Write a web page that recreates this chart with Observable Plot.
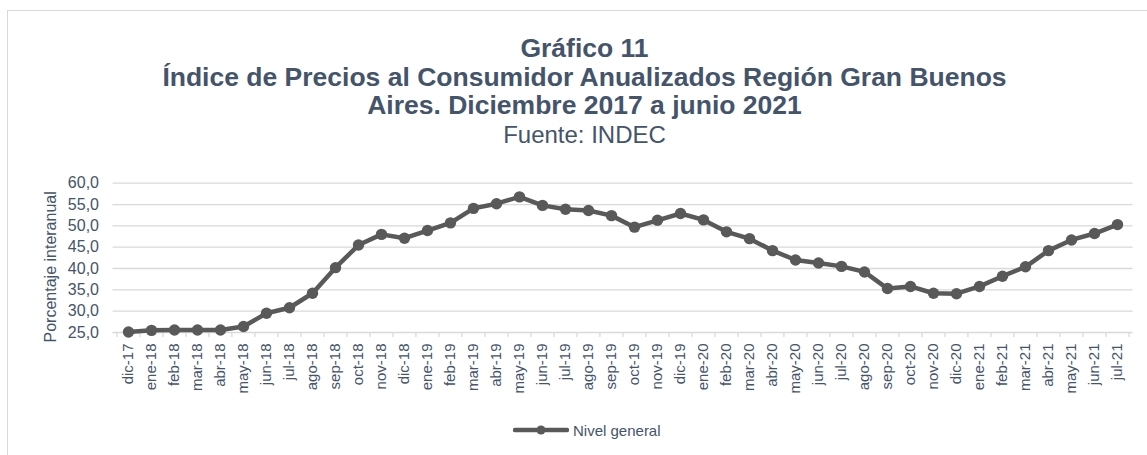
<!DOCTYPE html>
<html>
<head>
<meta charset="utf-8">
<script src="https://cdn.jsdelivr.net/npm/d3@7"></script>
<script src="https://cdn.jsdelivr.net/npm/@observablehq/plot@0.6"></script>
<style>
  html, body { margin: 0; padding: 0; background: #fff; }
  body { width: 1147px; height: 455px; overflow: hidden; position: relative; font-family: "Liberation Sans", Arial, sans-serif; }
  #frame { position: absolute; left: 7px; top: 10px; width: 1300px; height: 600px; border: 1.5px solid #d9d9d9; box-sizing: border-box; }
  #titles { position: absolute; left: 0; top: 34px; width: 1169px; text-align: center; color: #44546A; line-height: 28.5px; }
  #titles .t { font-weight: bold; font-size: 26.5px; }
  #titles .s { font-size: 24px; margin-top: 1.8px; }
  #chart { position: absolute; left: 0; top: 170px; }
  #legend { position: absolute; left: 513px; top: 420px; height: 20px; display: flex; align-items: center; color: #44546A; font-size: 15px; }
  #legend svg { margin-right: 4px; }
</style>
</head>
<body>
<div id="frame"></div>
<div id="titles">
  <div class="t">Gráfico 11</div>
  <div class="t">Índice de Precios al Consumidor Anualizados Región Gran Buenos</div>
  <div class="t">Aires. Diciembre 2017 a junio 2021</div>
  <div class="s">Fuente: INDEC</div>
</div>
<div id="chart"></div>
<div id="legend"></div>
<script>
const months = ["dic-17",
  "ene-18","feb-18","mar-18","abr-18","may-18","jun-18","jul-18","ago-18","sep-18","oct-18","nov-18","dic-18",
  "ene-19","feb-19","mar-19","abr-19","may-19","jun-19","jul-19","ago-19","sep-19","oct-19","nov-19","dic-19",
  "ene-20","feb-20","mar-20","abr-20","may-20","jun-20","jul-20","ago-20","sep-20","oct-20","nov-20","dic-20",
  "ene-21","feb-21","mar-21","abr-21","may-21","jun-21","jul-21"];
const nivelGeneral = [25.1,
  25.5,25.6,25.6,25.6,26.4,29.5,30.8,34.2,40.2,45.5,48.0,47.1,
  48.9,50.7,54.1,55.2,56.8,54.8,53.9,53.6,52.4,49.7,51.3,52.9,
  51.4,48.6,47.0,44.2,42.0,41.3,40.5,39.2,35.3,35.8,34.2,34.1,
  35.8,38.2,40.4,44.2,46.7,48.2,50.3];
const yTicks = [25,30,35,40,45,50,55,60];
const seriesName = "Nivel general";
const yLabel = "Porcentaje interanual";

const data = months.map((m, i) => ({mes: m, valor: nivelGeneral[i]}));

const W = 1147, H = 240, ML = 112.5, MR = 14.5, MT = 12.7, MB = 78;
const step = (W - ML - MR) / months.length;
const lineColor = "#595959";
const textColor = "#44546A";
const gridColor = "#d9d9d9";
const fmt = d => d.toFixed(1).replace(".", ",");

const chart = Plot.plot({
  width: W, height: H,
  marginLeft: ML, marginRight: MR, marginTop: MT, marginBottom: MB,
  style: {fontFamily: "Liberation Sans, Arial, sans-serif", fontSize: "15px", color: textColor, background: "transparent", overflow: "visible"},
  x: {type: "point", domain: months, padding: 0.5},
  y: {domain: [25, 60]},
  marks: [
    Plot.gridY(yTicks, {stroke: gridColor, strokeOpacity: 1, strokeWidth: 1.3}),
    Plot.axisY({ticks: yTicks, tickSize: 0, tickPadding: 14, tickFormat: fmt, label: null, fill: textColor, fontSize: 16}),
    Plot.text([yLabel], {frameAnchor: "left", textAnchor: "middle", rotate: -90, dx: -62, dy: 9, fill: textColor, fontSize: 16}),
    Plot.axisX({tickSize: 0, tickPadding: 11, tickRotate: -90, label: null, fill: textColor, fontSize: 15}),
    Plot.axisX({tickSize: 5, dx: -step / 2, tickFormat: () => "", label: null, stroke: gridColor, strokeWidth: 1.3}),
    Plot.axisX({ticks: [months[months.length - 1]], tickSize: 5, dx: step / 2, tickFormat: () => "", label: null, stroke: gridColor, strokeWidth: 1.3}),
    Plot.line(data, {x: "mes", y: "valor", stroke: lineColor, strokeWidth: 4.5}),
    Plot.dot(data, {x: "mes", y: "valor", r: 5.7, fill: lineColor, stroke: "none"})
  ]
});
document.getElementById("chart").append(chart);

// Legend swatch
const sw = d3.create("svg").attr("width", 56).attr("height", 14);
sw.append("line").attr("x1", 2).attr("x2", 54).attr("y1", 7).attr("y2", 7).attr("stroke", lineColor).attr("stroke-width", 4.5).attr("stroke-linecap", "round");
sw.append("circle").attr("cx", 28).attr("cy", 7).attr("r", 4.5).attr("fill", lineColor);
const lg = document.getElementById("legend");
lg.append(sw.node());
const sp = document.createElement("span");
sp.textContent = seriesName;
lg.append(sp);
</script>
</body>
</html>
